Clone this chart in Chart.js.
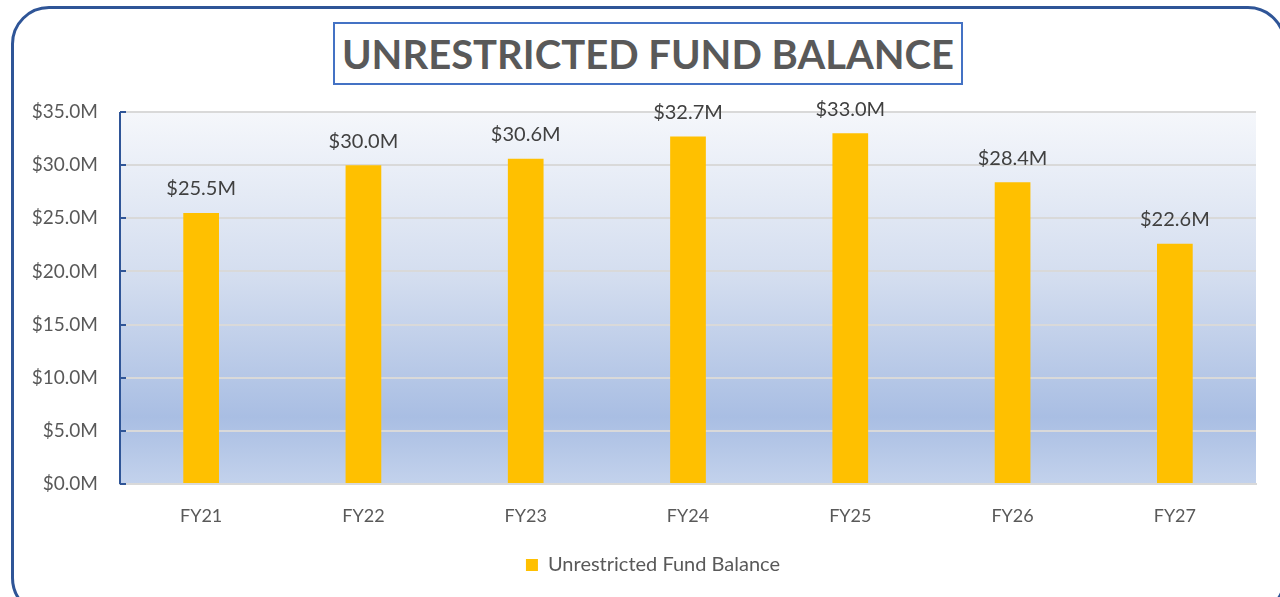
<!DOCTYPE html>
<html>
<head>
<meta charset="utf-8">
<script src="https://cdn.jsdelivr.net/npm/chart.js@4.4.0/dist/chart.umd.min.js"></script>
<style>
  html, body { margin: 0; padding: 0; background: #fff; }
  body { width: 1280px; height: 597px; position: relative; overflow: hidden; font-family: Lato, "Liberation Sans", sans-serif; }
  #frame {
    position: absolute; left: 11px; top: 6px; width: 1275px; height: 610px;
    border: 3px solid #2f5597; border-radius: 38px; box-sizing: border-box;
  }
  #titleBox {
    position: absolute; left: 333px; top: 22px; width: 630px; height: 63px;
    border: 2.5px solid #4472c4; box-sizing: border-box;
    display: flex; align-items: center; justify-content: center;
    font-weight: bold; font-size: 40px; color: #595959; white-space: nowrap;
  }
  #wrap { position: absolute; left: 0; top: 0; width: 1280px; height: 597px; }
</style>
</head>
<body>
<div id="frame"></div>
<div id="titleBox">UNRESTRICTED FUND BALANCE</div>
<div id="wrap"><canvas id="chart"></canvas></div>
<script>
const years = ['FY21', 'FY22', 'FY23', 'FY24', 'FY25', 'FY26', 'FY27'];
const balance = [25.5, 30.0, 30.6, 32.7, 33.0, 28.4, 22.6];   // $M
const yTicks = [0, 5, 10, 15, 20, 25, 30, 35];
const seriesName = 'Unrestricted Fund Balance';

const FONT = 'Lato, "Liberation Sans", sans-serif';
const money = v => '$' + v.toFixed(1) + 'M';

// gradient fill behind the plot area
const plotBg = {
    id: 'plotBg',
    beforeDraw(chart) {
        const {ctx, chartArea: a} = chart;
        const g = ctx.createLinearGradient(0, a.top, 0, a.bottom);
        g.addColorStop(0, '#f5f7fb');
        g.addColorStop(0.45, '#d3ddef');
        g.addColorStop(0.82, '#a9bee3');
        g.addColorStop(1, '#c3d2ec');
        ctx.save();
        ctx.fillStyle = g;
        ctx.fillRect(a.left, a.top, a.right - a.left, a.bottom - a.top);
        ctx.restore();
    }
};

// blue y axis line with short inward ticks
const yAxisLine = {
    id: 'yAxisLine',
    afterDatasetsDraw(chart) {
        const {ctx, chartArea: a, scales: {y}} = chart;
        ctx.save();
        ctx.strokeStyle = '#2f5597';
        ctx.lineWidth = 2;
        ctx.beginPath();
        ctx.moveTo(a.left, a.top);
        ctx.lineTo(a.left, a.bottom);
        yTicks.forEach(t => {
            const py = Math.round(y.getPixelForValue(t));
            ctx.moveTo(a.left, py);
            ctx.lineTo(a.left + 6, py);
        });
        ctx.stroke();
        ctx.restore();
    }
};

// value labels above bars
const barLabels = {
    id: 'barLabels',
    afterDatasetsDraw(chart) {
        const {ctx} = chart;
        const meta = chart.getDatasetMeta(0);
        ctx.save();
        ctx.font = '20px ' + FONT;
        ctx.fillStyle = '#404040';
        ctx.textAlign = 'center';
        ctx.textBaseline = 'middle';
        meta.data.forEach((bar, i) => {
            ctx.fillText(money(balance[i]), bar.x, bar.y - 24);
        });
        ctx.restore();
    }
};

// nudge the legend a bit right, like the original
const legendShift = {
    id: 'legendShift',
    afterUpdate(chart) {
        const lg = chart.legend;
        if (!lg) return;
        lg.left = 25;
        lg.right = chart.width - 24 + 25;
    }
};

new Chart(document.getElementById('chart'), {
    type: 'bar',
    data: {
        labels: years,
        datasets: [{
            label: seriesName,
            data: balance,
            backgroundColor: '#ffc000',
            borderWidth: 0,
            categoryPercentage: 1,
            barPercentage: 0.22
        }]
    },
    options: {
        responsive: true,
        maintainAspectRatio: false,
        animation: false,
        layout: { padding: { top: 112, right: 24, left: 0, bottom: 12 } },
        plugins: {
            title: { display: false },
            tooltip: { enabled: false },
            legend: {
                position: 'bottom',
                labels: {
                    font: { family: FONT, size: 20 },
                    color: '#595959',
                    boxWidth: 12, boxHeight: 12,
                    padding: 6
                }
            }
        },
        scales: {
            x: {
                grid: { display: false, drawTicks: false },
                border: { display: true, color: '#d9d9d9', width: 2 },
                ticks: {
                    font: { family: FONT, size: 18 },
                    color: '#595959',
                    padding: 21
                },
                afterFit(s) { s.height = 65; }
            },
            y: {
                min: 0, max: 35,
                afterBuildTicks(s) { s.ticks = yTicks.map(v => ({value: v})); },
                grid: { color: '#d9d9d9', lineWidth: 2, drawTicks: false },
                border: { display: false },
                ticks: {
                    font: { family: FONT, size: 19 },
                    color: '#595959',
                    padding: 22,
                    callback: v => money(v)
                },
                afterFit(s) { s.width = 120; }
            }
        }
    },
    plugins: [plotBg, yAxisLine, barLabels, legendShift]
});
</script>
</body>
</html>
